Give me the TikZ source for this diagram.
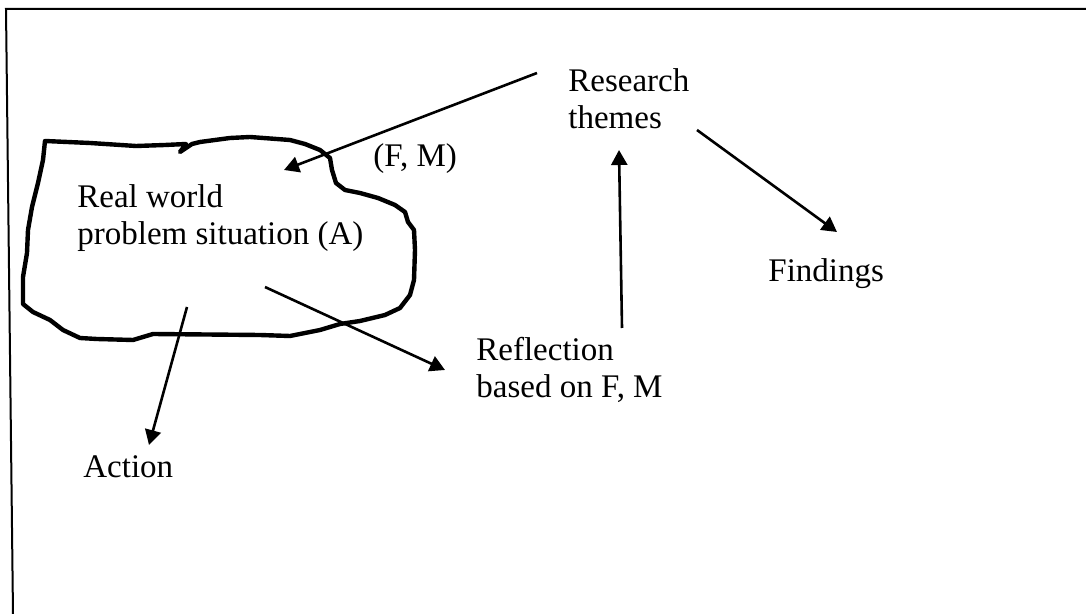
\documentclass[tikz,border=0pt]{standalone}
\usepackage{fontspec}
\setmainfont{Liberation Serif}
\usetikzlibrary{arrows.meta}
\begin{document}
\begin{tikzpicture}[x=0.5pt,y=-0.5pt,
  lbl/.style={anchor=base west,inner sep=0pt,align=left,
    font=\fontsize{16.5}{18.5}\selectfont},
  flow/.style={line width=1.3pt,-{Triangle[length=7.5pt,width=8pt]}},
  frame/.style={line width=1pt},
  cloud/.style={line width=2.2pt,line join=round}]
\useasboundingbox (0,0) rectangle (1086,614);
\fill[white] (0,0) rectangle (1086,614);

% open frame (left and top edges only)
\draw[frame] (13,614) -- (6,9) -- (1086,9);

% hand-drawn outline of the problem situation
\draw[cloud] (45,141) -- (90,143) -- (136,146) -- (165,145) -- (186,144)
  -- (180,152) -- (192,144) -- (200,142) -- (230,138) -- (250,137)
  -- (290,140) -- (305,144) -- (320,150) -- (330,158) -- (332,170)
  -- (336,183) -- (345,190) -- (360,193) -- (378,198) -- (395,205)
  -- (405,212) -- (408,222) -- (414,230) -- (415,250) -- (414,280)
  -- (410,295) -- (400,308) -- (385,315) -- (360,321) -- (340,324)
  -- (320,330) -- (305,333) -- (290,336) -- (260,335) -- (153,334)
  -- (133,340) -- (97,339) -- (80,338) -- (63,330) -- (50,320)
  -- (33,312) -- (23,304) -- (23,277) -- (27,253) -- (28,230)
  -- (32,207) -- (38,183) -- (43,160) -- cycle;

% labels (base anchor sits on the last line)
\node[lbl] (rw)  at (77,245)  {Real world\\problem situation (A)};
\node[lbl] (rt)  at (568,129) {Research\\themes};
\node[lbl] (fm)  at (373,167) {(F, M)};
\node[lbl] (fi)  at (768,282) {Findings};
\node[lbl] (rf)  at (476,398) {Reflection\\based on F, M};
\node[lbl] (ac)  at (83,477)  {Action};

% connector end points
\coordinate (rtA) at (537,73);
\coordinate (rwA) at (284,170);
\coordinate (rtB) at (697,130);
\coordinate (fiA) at (837,232);
\coordinate (rfA) at (622,328);
\coordinate (rtC) at (619,150);
\coordinate (rwB) at (265,287);
\coordinate (rfB) at (445,370);
\coordinate (rwC) at (187,307);
\coordinate (acA) at (149,445);

\draw[flow] (rtA) -- (rwA);
\draw[flow] (rtB) -- (fiA);
\draw[flow] (rfA) -- (rtC);
\draw[flow] (rwB) -- (rfB);
\draw[flow] (rwC) -- (acA);
\end{tikzpicture}
\end{document}
